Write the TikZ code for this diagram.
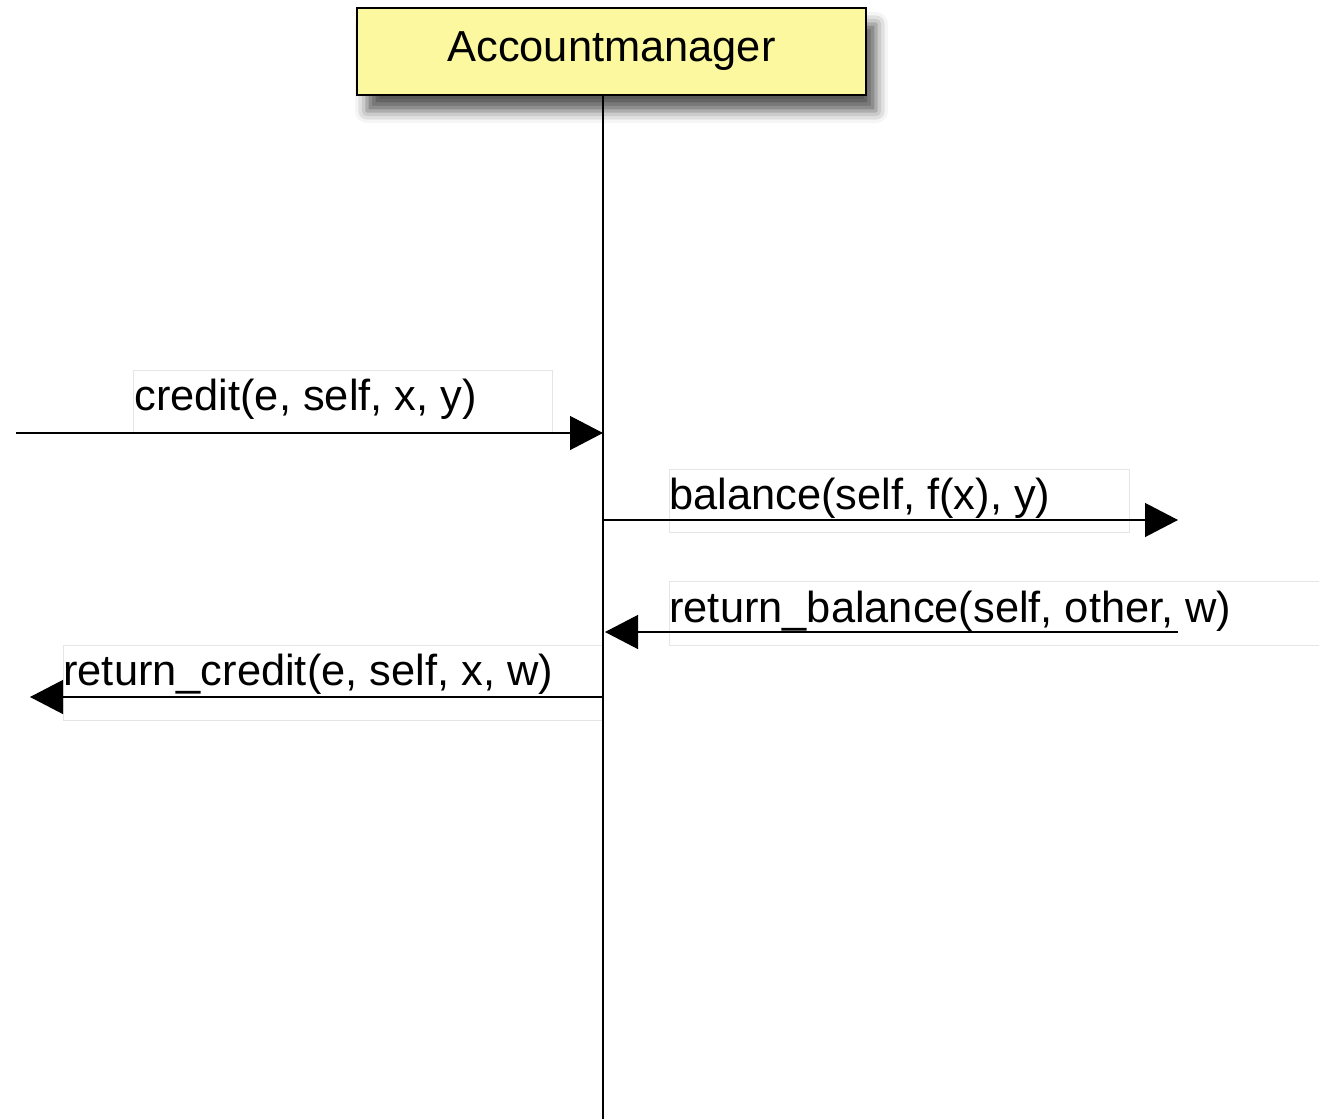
\documentclass[tikz,border=0pt]{standalone}
\usepackage{fontspec}
\setmainfont{Liberation Sans}
\usetikzlibrary{arrows.meta,shadows.blur}
\definecolor{mgrfill}{RGB}{251,248,160}

\begin{document}
\begin{tikzpicture}[x=0.5pt,y=-0.5pt,
    msg/.style={draw=black,line width=0.6pt,-{Triangle[length=16.5pt,width=17pt]}},
    lbl/.style={inner sep=0pt,anchor=base west,font=\fontsize{21.7}{26}\selectfont},
    lblframe/.style={draw=black!10,line width=0.4pt}]
\useasboundingbox (0,0) rectangle (1319,1119);

% label frames
\draw[lblframe] (133,370) rectangle (552,433);
\draw[lblframe] (669,469) rectangle (1129,532);
\draw[lblframe] (669,581) rectangle (1319,645);
\draw[lblframe] (63,645) rectangle (603,720);

\node[draw,fill=mgrfill,line width=0.6pt,minimum width=254.5pt,minimum height=43.5pt,
      blur shadow={shadow xshift=5pt,shadow yshift=-8pt,shadow blur radius=6pt,shadow opacity=65},
      font=\fontsize{21.7}{26}\selectfont,name=mgr] at (611.5,51.5) {Accountmanager};
\coordinate (lifeend) at (603,1119);
\draw[line width=0.6pt] (mgr.south -| lifeend) -- (lifeend);

% incoming call
\node[lbl,name=credit] at (134,410) {credit(e, self, x, y)};
\coordinate (creditsrc) at (16,433);
\coordinate (creditdst) at (603,433);
\draw[msg] (creditsrc) -- (creditdst);

% outgoing call
\node[lbl,name=balance] at (669,509) {balance(self, f(x), y)};
\coordinate (balsrc) at (603,520);
\coordinate (baldst) at (1178,520);
\draw[msg] (balsrc) -- (baldst);

% returns
\node[lbl,name=retbal] at (669,622) {return\_balance(self, other, w)};
\coordinate (retbalsrc) at (1178,632);
\coordinate (retbaldst) at (605,632);
\draw[msg] (retbalsrc) -- (retbaldst);

\node[lbl,name=retcred] at (63,685) {return\_credit(e, self, x, w)};
\coordinate (retcredsrc) at (603,697);
\coordinate (retcreddst) at (30,697);
\draw[msg] (retcredsrc) -- (retcreddst);
\end{tikzpicture}
\end{document}
